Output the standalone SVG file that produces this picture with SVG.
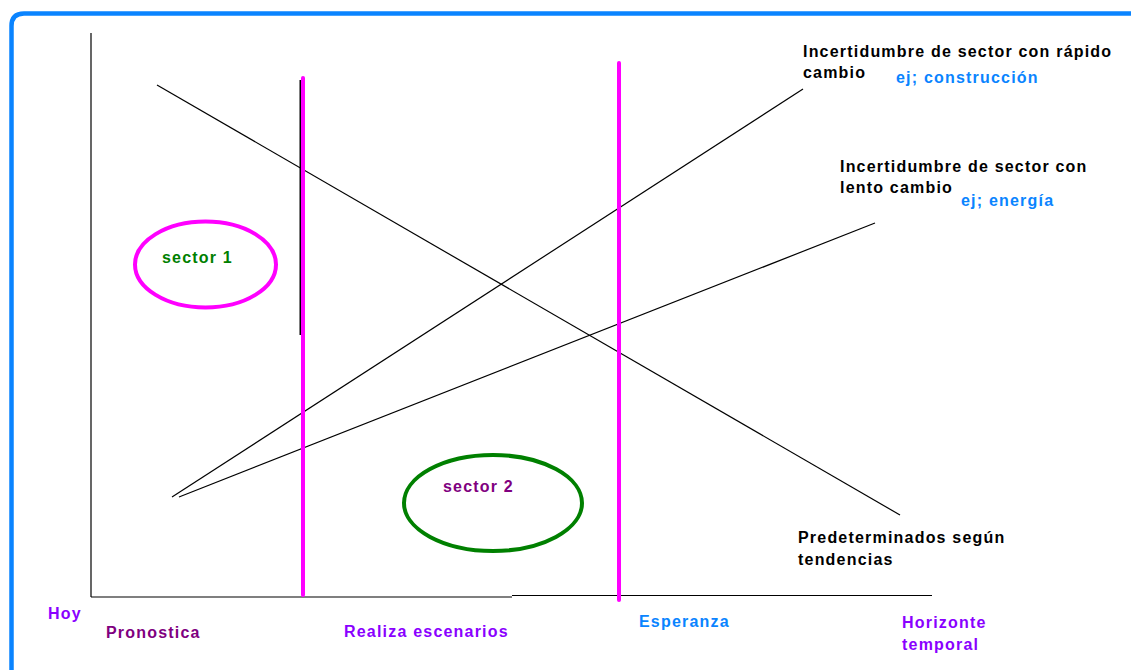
<svg xmlns="http://www.w3.org/2000/svg" width="1131" height="670" viewBox="0 0 1131 670">
<style>
text{font-family:"Liberation Sans",Arial,sans-serif;font-weight:bold;font-size:16px;letter-spacing:1.2px}
.blk{fill:#000}
.blue{fill:#0a84ff}
.vio{fill:#8a00ff}
.pur{fill:#800080}
.grn{fill:#008000}
.thin{stroke:#000;stroke-width:1.2;fill:none}
.pink{stroke:#ff00ff;stroke-width:4;fill:none;stroke-linecap:round}
</style>
<rect width="1131" height="670" fill="#fff"/>
<path d="M11.5,680 V26 Q11.5,13.5 24,13.5 H1140" fill="none" stroke="#0a84ff" stroke-width="4.5"/>
<g id="connectors">
<line class="thin" x1="91" y1="33" x2="91" y2="597"/>
<line class="thin" x1="91" y1="597" x2="512" y2="597"/>
<line class="thin" x1="512" y1="595.5" x2="932" y2="595.5"/>
<line class="thin" x1="157" y1="85" x2="900" y2="515"/>
<line class="thin" x1="172" y1="497" x2="803" y2="89"/>
<line class="thin" x1="179" y1="497" x2="875" y2="223"/>
<line x1="300.5" y1="80" x2="300.5" y2="335" stroke="#000" stroke-width="2"/>
<line class="pink" x1="303" y1="78" x2="303" y2="595"/>
<line class="pink" x1="619" y1="63" x2="619" y2="600"/>
</g>
<g id="sector1">
<ellipse cx="205.5" cy="264.5" rx="70.5" ry="43" fill="none" stroke="#ff00ff" stroke-width="4"/>
<text class="grn" x="162" y="263">sector 1</text>
</g>
<g id="sector2">
<ellipse cx="493" cy="503" rx="89" ry="48" fill="none" stroke="#008000" stroke-width="4"/>
<text class="pur" x="443" y="492">sector 2</text>
</g>
<g id="rapido">
<text class="blk" x="803" y="57">Incertidumbre de sector con rápido</text>
<text class="blk" x="803" y="78">cambio</text>
<text class="blue" x="896" y="83">ej; construcción</text>
</g>
<g id="lento">
<text class="blk" x="840" y="172">Incertidumbre de sector con</text>
<text class="blk" x="840" y="193">lento cambio</text>
<text class="blue" x="961" y="206">ej; energía</text>
</g>
<g id="predeterminados">
<text class="blk" x="798" y="543">Predeterminados según</text>
<text class="blk" x="798" y="565">tendencias</text>
</g>
<g id="hoy"><text class="vio" x="48" y="619">Hoy</text></g>
<g id="pronostica"><text class="pur" x="106" y="638">Pronostica</text></g>
<g id="escenarios"><text class="vio" x="344" y="637">Realiza escenarios</text></g>
<g id="esperanza"><text class="blue" x="639" y="627">Esperanza</text></g>
<g id="horizonte">
<text class="vio" x="902" y="628">Horizonte</text>
<text class="vio" x="902" y="650">temporal</text>
</g>
</svg>
